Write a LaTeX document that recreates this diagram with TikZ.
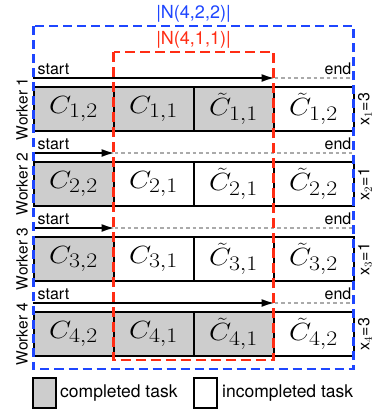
\documentclass[tikz,border=0pt]{standalone}
\usepackage{fontspec}
\setsansfont{TeX Gyre Heros}
\usetikzlibrary{arrows.meta}
\definecolor{setblue}{RGB}{30,70,255}
\definecolor{setred}{RGB}{255,45,20}
\definecolor{donegray}{RGB}{205,205,205}
\definecolor{tailgray}{RGB}{170,170,170}
\newcommand{\cellmath}[1]{\scalebox{1.15}[1]{$#1$}}
\begin{document}
\begin{tikzpicture}[x=1pt,y=-1pt,
  cellbox/.style={draw=black, line width=2pt, minimum width=80pt, minimum height=44pt,
    inner sep=0pt, font=\fontsize{28}{32}\selectfont},
  donebox/.style={cellbox, fill=donegray},
  progress/.style={line width=1.8pt, -{Latex[length=13pt,width=8pt]}},
  remain/.style={tailgray, line width=1.5pt, dash pattern=on 3.5pt off 3pt},
  tag/.style={font=\sffamily\fontsize{16}{18}\selectfont, inner sep=0pt},
  worker/.style={font=\sffamily\fontsize{15.5}{18}\selectfont, rotate=90, inner sep=0pt},
  count/.style={font=\sffamily\fontsize{16}{18}\selectfont, rotate=90, inner sep=0pt},
  setlabel/.style={font=\sffamily\fontsize{18}{20}\selectfont, inner sep=0pt},
  bluebox/.style={setblue, line width=2.4pt, dash pattern=on 9pt off 5pt},
  redbox/.style={setred, line width=2.4pt, dash pattern=on 10pt off 5pt},
  legendbox/.style={draw=black, line width=2pt, minimum width=23pt, minimum height=30pt, inner sep=0pt},
  legendtext/.style={font=\sffamily\fontsize{17.5}{20}\selectfont, inner sep=0pt, anchor=west}]
\useasboundingbox (0,0) rectangle (378,416);

% task cells, one row per worker
\foreach \r/\y/\ndone in {1/109/3, 2/184/1, 3/259/1, 4/334/3} {
  \foreach \k/\txt in {1/{C_{\r,2}}, 2/{C_{\r,1}}, 3/{\tilde{C}_{\r,1}}, 4/{\tilde{C}_{\r,2}}} {
    \pgfmathtruncatemacro{\isdone}{\k<=\ndone ? 1 : 0}
    \ifnum\isdone=1
      \node[donebox] (c\r\k) at ({33.5+80*(\k-1)+40}, \y) {\cellmath{\txt}};
    \else
      \node[cellbox] (c\r\k) at ({33.5+80*(\k-1)+40}, \y) {\cellmath{\txt}};
    \fi
  }
  \node[worker] (w\r) at (22, \y) {Worker \r};
  % progress line above the row
  \coordinate (s\r) at ([yshift=8pt]c\r1.north west);
  \coordinate (e\r) at ([yshift=8pt]c\r4.north east);
  \node[tag, anchor=base west] (st\r) at ([xshift=5pt, yshift=4pt]s\r) {start};
  \node[tag, anchor=base east] (en\r) at ([xshift=-3pt, yshift=4pt]e\r) {end};
}

% how far each worker has progressed
\coordinate (m1) at ([yshift=8pt]c13.north east);
\coordinate (m2) at ([yshift=8pt]c21.north east);
\coordinate (m3) at ([yshift=8pt]c31.north east);
\coordinate (m4) at ([yshift=8pt]c43.north east);
\foreach \r in {1,...,4} {
  \draw[remain] (m\r) -- (e\r);
  \draw[progress] (s\r) -- (m\r);
}

% number of completed tasks per worker
\node[count] (x1) at (365, 109) {x$_1$=3};
\node[count] (x2) at (365, 184) {x$_2$=1};
\node[count] (x3) at (365, 259) {x$_3$=1};
\node[count] (x4) at (365, 334) {x$_4$=3};

% the two task sets
\draw[bluebox] (33.5,26) rectangle (353.5,369);
\draw[redbox] (113.5,52) rectangle (273.5,360);
\node[setlabel, text=setblue] (nb) at (193.5,14) {|N(4,2,2)|};
\node[setlabel, text=setred] (nr) at (193.5,40) {|N(4,1,1)|};

% legend
\node[legendbox, fill=donegray] (lg1) at (44.5,393) {};
\node[legendtext] (lt1) at (60,393) {completed task};
\node[legendbox, fill=white] (lg2) at (205,393) {};
\node[legendtext] (lt2) at (222,393) {incompleted task};
\end{tikzpicture}
\end{document}
